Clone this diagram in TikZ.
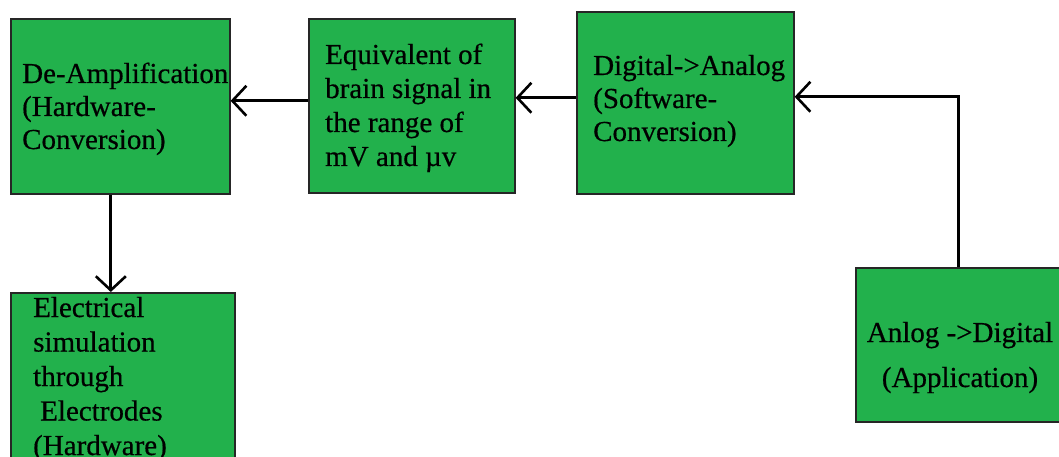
\documentclass[tikz,border=0pt]{standalone}
\usepackage{fontspec}
\setmainfont{Liberation Serif}
\newfontfamily\lblfont[FakeBold=0.5]{Liberation Serif}
\usetikzlibrary{arrows.meta}
\definecolor{boxgreen}{RGB}{34,177,76}
\tikzset{
  box/.style={draw=black!85, line width=1.6pt, fill=boxgreen, inner sep=0pt, anchor=north west},
  lbl/.style={font=\lblfont\fontsize{29}{34}\selectfont, align=left, inner sep=0pt, anchor=base west},
}
\tikzset{
  conn/.style={line width=2.8pt, -{Straight Barb[length=14pt,width=30pt,line width=2.6pt]}},
}
\begin{document}
\begin{tikzpicture}[x=1pt,y=-1pt]
\useasboundingbox (0,0) rectangle (1059,457);
\clip (0,0) rectangle (1059,457);
\fill[white] (0,0) rectangle (1059,457);
% boxes
\node[box, minimum width=219pt, minimum height=175pt] (b1) at (10,18) {};
\node[box, minimum width=206pt, minimum height=174pt] (b2) at (308,18) {};
\node[box, minimum width=217pt, minimum height=182pt] (b3) at (576,11) {};
\node[box, minimum width=224pt, minimum height=200pt] (b4) at (10,292) {};
\node[box, minimum width=240pt, minimum height=154pt] (b5) at (855,267) {};
% texts (anchored at the baseline of their last line)
\node[lbl, font=\lblfont\fontsize{29}{33}\selectfont] (t1) at (22,149) {De-Amplification\\(Hardware-\\Conversion)};
\node[lbl] (t2) at (325,166) {Equivalent of\\brain signal in\\the range of\\mV and µv};
\node[lbl, font=\lblfont\fontsize{29}{33}\selectfont] (t3) at (593,141) {Digital->Analog\\(Software-\\Conversion)};
\node[lbl, font=\lblfont\fontsize{29}{34.5}\selectfont] (t4) at (33,455) {Electrical\\simulation\\through\\\hspace*{7pt}Electrodes\\(Hardware)};
\node[lbl, font=\lblfont\fontsize{29}{45}\selectfont, align=center, anchor=base] (t5) at (960,387) {Anlog ->Digital\\(Application)};
% connectors
\draw[conn] ([yshift=5pt]b2.west) -- ([yshift=5pt]b2.west -| b1.east);
\draw[conn] ([yshift=5pt]b3.west) -- ([yshift=5pt]b3.west -| b2.east);
\draw[conn] ([xshift=-17pt]b5.north) |- ([yshift=6pt]b3.east);
\draw[conn] ([xshift=-9.5pt]b1.south) -- ([xshift=-9.5pt]b1.south |- b4.north);
\end{tikzpicture}
\end{document}
